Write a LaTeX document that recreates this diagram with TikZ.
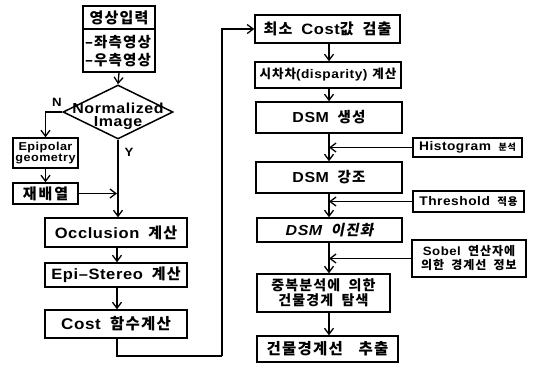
\documentclass[tikz,border=0pt]{standalone}
\usepackage{fontspec}
\usetikzlibrary{shapes.geometric,arrows.meta}
\setmainfont{Liberation Sans}[FakeStretch=1.1,LetterSpace=4]
\newfontfamily\kr{Noto Sans CJK KR}[LetterSpace=8]
\newfontfamily\krit{Noto Sans CJK KR}[LetterSpace=8,FakeSlant=0.2]
\newcommand\K[1]{{\kr\bfseries #1}}
\newcommand\KI[1]{{\krit\bfseries #1}}
\newcommand\gap{\hspace{0.6em}}
\newcommand\fs[1]{\fontsize{#1}{#1}\selectfont\bfseries}
\begin{document}
\begin{tikzpicture}[x=1pt,y=-1pt,
  box/.style={draw,line width=1.5pt,inner sep=0pt,align=center},
  arr/.style={line width=1.3pt,-{Straight Barb[length=6pt,width=9pt]}},
  ln/.style={line width=1.3pt},
  lbl/.style={inner sep=0pt,align=center}]
\useasboundingbox (0,0) rectangle (537,365);
% ---------- left column ----------
\node[box,minimum width=72,minimum height=66] (inp) at (119,39) {};
\draw[line width=1.5pt] (inp.west |- 0,29) -- (inp.east |- 0,29);
\node[lbl,font=\fs{15}] (t1) at (119,17.5) {\K{영상입력}};
\node[lbl,font=\fs{14.5}] (t2) at (118,42) {\K{–좌측영상}};
\node[lbl,font=\fs{14.5}] (t3) at (118,60) {\K{–우측영상}};
\node[draw,diamond,line width=1.5pt,minimum width=110,minimum height=54,inner sep=0pt] (dec) at (118,112) {};
\node[lbl,font=\fs{14.5}] (dt1) at (118,108) {Normalized};
\node[lbl,font=\fs{14.5}] (dt2) at (118,123.5) {Image};
\node[lbl,font=\fs{12}] (nN) at (57,102) {N};
\node[lbl,font=\fs{12}] (nY) at (129,152) {Y};
\node[box,minimum width=65,minimum height=30,font=\fs{11.5}] (epi) at (45.5,153) {Epipolar\\[-1pt]geometry};
\node[box,minimum width=65,minimum height=21,font=\fs{15}] (rea) at (45.5,193.5) {\K{재\hspace{2pt}배\hspace{2pt}열}};
\node[box,minimum width=142,minimum height=29,font=\fs{15}] (occ) at (116,232.5) {Occlusion\gap\K{계산}};
\node[box,minimum width=142,minimum height=24,font=\fs{15}] (epist) at (116,275) {Epi–Stereo\gap\K{계산}};
\node[box,minimum width=142,minimum height=28,font=\fs{15.5}] (cost) at (116,324) {Cost\gap\K{함수계산}};
\coordinate (colL) at (117,0);
\coordinate (j1) at (117,193.5);
\coordinate (lp1) at (117,356);
\coordinate (lp2) at (222,356);
\draw[arr] (inp.south) -- (dec.north);
\draw[arr] (dec.west) -| (epi.north);
\draw[arr] (epi.south) -- (rea.north);
\draw[arr] (rea.east) -- (j1);
\draw[arr] (dec.south) -- (dec.south |- occ.north);
\draw[arr] (occ.south -| colL) -- (epist.north -| colL);
\draw[arr] (epist.south -| colL) -- (cost.north -| colL);
\draw[ln] (cost.south -| colL) -- (lp1) -- (lp2);
% ---------- right column ----------
\node[box,minimum width=145,minimum height=28,font=\fs{15}] (min) at (327.5,29) {\K{최소}\gap Cost\K{값}\gap\K{검출}};
\node[box,minimum width=146,minimum height=26,font=\fs{12.5}] (dis) at (328,75) {\K{시차차}(disparity)\hspace{0.4em}\K{계산}};
\node[box,minimum width=146,minimum height=31,font=\fs{14.5}] (gen) at (329,117.5) {DSM\gap\K{생성}};
\node[box,minimum width=146,minimum height=31,font=\fs{14.5}] (emp) at (329,177.5) {DSM\gap\K{강조}};
\node[box,minimum width=145,minimum height=24,font=\fs{14.5}] (bin) at (329.5,230) {\itshape DSM\gap\KI{이진화}};
\node[box,minimum width=133,minimum height=38,font=\fs{14}] (dup) at (323.5,293) {\K{중복분석에\gap 의한}\\[1pt]\K{건물경계\gap 탐색}};
\node[box,minimum width=141,minimum height=26,font=\fs{15.5}] (ext) at (327.5,349) {\K{건물경계선\hspace{1em}추출}};
\node[box,minimum width=109,minimum height=19,font=\fs{12.5}] (hist) at (467.5,147.5) {Histogram\gap{\fs{9}\K{분석}}};
\node[box,minimum width=111,minimum height=21,font=\fs{12.5}] (thr) at (468.5,201.5) {Threshold\gap{\fs{10.5}\K{적용}}};
\node[box,minimum width=114,minimum height=37,font=\fs{12}] (sob) at (469,258.5) {Sobel\gap\K{연산자에}\\[2pt]\K{의한\gap 경계선\gap 정보}};
\coordinate (colR) at (329,0);
\draw[arr] (lp2) |- (min.west);
\draw[arr] (min.south -| colR) -- (dis.north -| colR);
\draw[arr] (dis.south -| colR) -- (gen.north -| colR);
\draw[arr] (gen.south -| colR) -- (emp.north -| colR);
\draw[arr] (emp.south -| colR) -- (bin.north -| colR);
\draw[arr] (bin.south -| colR) -- (dup.north -| colR);
\draw[arr] (dup.south -| colR) -- (ext.north -| colR);
\draw[arr] (hist.west) -- (hist.west -| colR);
\draw[arr] (thr.west) -- (thr.west -| colR);
\draw[arr] (sob.west) -- (sob.west -| colR);
\end{tikzpicture}
\end{document}
